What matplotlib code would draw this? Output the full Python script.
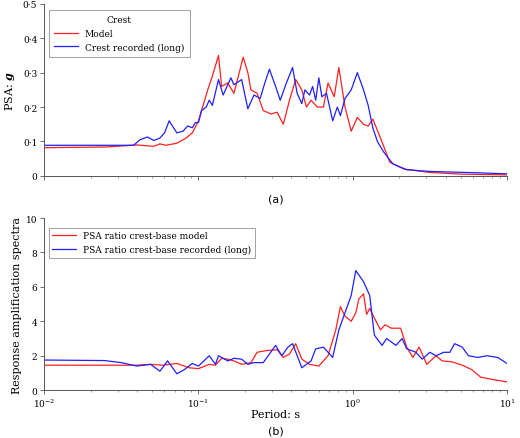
import numpy as np
import matplotlib
matplotlib.use("Agg")
import matplotlib.pyplot as plt
from matplotlib.ticker import FixedLocator, FixedFormatter

# log10(period) and value pairs
top_model_logT = [-2.0, -1.6, -1.40, -1.29, -1.25, -1.21, -1.14, -1.08, -1.04, -1.00, -0.98, -0.94, -0.91, -0.87,
                  -0.85, -0.81, -0.77, -0.73, -0.71, -0.68, -0.66, -0.62, -0.58, -0.53, -0.49, -0.45, -0.41, -0.37,
                  -0.33, -0.30, -0.27, -0.23, -0.19, -0.16, -0.12, -0.09, -0.05, -0.01, 0.03, 0.07, 0.10, 0.13,
                  0.18, 0.24, 0.33, 0.50, 0.71, 1.0]
top_model_psa = [0.082, 0.084, 0.09, 0.086, 0.093, 0.089, 0.095, 0.11, 0.125, 0.16, 0.19, 0.25, 0.29, 0.35,
                 0.26, 0.27, 0.24, 0.31, 0.345, 0.3, 0.25, 0.24, 0.19, 0.18, 0.185, 0.15, 0.22, 0.28,
                 0.25, 0.2, 0.22, 0.2, 0.2, 0.27, 0.23, 0.315, 0.2, 0.13, 0.17, 0.15, 0.145, 0.165,
                 0.11, 0.04, 0.02, 0.01, 0.005, 0.003]

top_rec_logT = [-2.0, -1.42, -1.38, -1.33, -1.29, -1.25, -1.22, -1.19, -1.14, -1.10, -1.07, -1.04, -1.02, -1.00,
                -0.98, -0.95, -0.93, -0.91, -0.87, -0.84, -0.79, -0.77, -0.72, -0.68, -0.64, -0.60, -0.57, -0.54,
                -0.50, -0.47, -0.43, -0.39, -0.36, -0.33, -0.31, -0.28, -0.26, -0.24, -0.22, -0.20, -0.17, -0.13,
                -0.10, -0.08, -0.05, -0.01, 0.03, 0.07, 0.10, 0.13, 0.16, 0.20, 0.26, 0.35, 0.50, 0.81, 1.0]
top_rec_psa = [0.089, 0.089, 0.105, 0.113, 0.103, 0.11, 0.125, 0.16, 0.125, 0.13, 0.145, 0.14, 0.155, 0.155,
               0.19, 0.2, 0.22, 0.205, 0.28, 0.235, 0.285, 0.265, 0.28, 0.195, 0.235, 0.225, 0.27, 0.31,
               0.26, 0.22, 0.27, 0.315, 0.24, 0.21, 0.25, 0.235, 0.26, 0.22, 0.285, 0.23, 0.24, 0.16,
               0.2, 0.175, 0.225, 0.25, 0.3, 0.25, 0.205, 0.14, 0.1, 0.07, 0.035, 0.018, 0.013, 0.009, 0.006]

bot_model_logT = [-2.0, -1.40, -1.31, -1.23, -1.14, -1.06, -1.00, -0.93, -0.89, -0.85, -0.81, -0.77, -0.72, -0.66,
                  -0.62, -0.56, -0.49, -0.45, -0.41, -0.37, -0.33, -0.28, -0.22, -0.16, -0.11, -0.08, -0.05, -0.01,
                  0.02, 0.04, 0.07, 0.09, 0.11, 0.14, 0.18, 0.21, 0.25, 0.31, 0.35, 0.39, 0.43, 0.48, 0.54,
                  0.58, 0.64, 0.71, 0.77, 0.83, 0.92, 1.0]
bot_model_ratio = [1.45, 1.45, 1.5, 1.45, 1.55, 1.3, 1.25, 1.5, 1.45, 1.85, 1.8, 1.7, 1.5, 1.6,
                   2.2, 2.3, 2.35, 1.9, 2.1, 2.7, 1.8, 1.5, 1.4, 2.0, 3.5, 4.85, 4.3, 4.0,
                   4.5, 5.3, 5.6, 4.4, 4.75, 4.2, 3.5, 3.8, 3.6, 3.6, 2.5, 1.9, 2.5, 1.5, 2.0,
                   1.7, 1.65, 1.45, 1.2, 0.75, 0.6, 0.48]

bot_rec_logT = [-2.0, -1.61, -1.50, -1.40, -1.31, -1.25, -1.20, -1.14, -1.09, -1.04, -1.00, -0.93, -0.89, -0.87,
                -0.81, -0.77, -0.72, -0.68, -0.64, -0.58, -0.50, -0.46, -0.42, -0.39, -0.33, -0.27, -0.24, -0.19,
                -0.13, -0.09, -0.05, -0.01, 0.02, 0.07, 0.11, 0.14, 0.19, 0.22, 0.28, 0.32, 0.35, 0.41, 0.45,
                0.50, 0.54, 0.59, 0.63, 0.66, 0.71, 0.75, 0.81, 0.87, 0.94, 1.0]
bot_rec_ratio = [1.75, 1.72, 1.6, 1.4, 1.5, 1.1, 1.7, 0.95, 1.2, 1.55, 1.4, 2.0, 1.5, 2.0,
                 1.7, 1.85, 1.8, 1.5, 1.6, 1.6, 2.6, 2.0, 2.5, 2.7, 1.3, 1.7, 2.4, 2.5,
                 1.9, 3.5, 4.5, 5.5, 6.95, 6.3, 5.5, 3.2, 2.6, 3.0, 2.6, 3.0, 2.4, 2.2, 1.8,
                 2.2, 2.0, 2.2, 2.2, 2.7, 2.5, 2.0, 1.9, 2.0, 1.9, 1.55]

top_yticks = [0, 0.1, 0.2, 0.3, 0.4, 0.5]
top_ylabels = ["0", "0·1", "0·2", "0·3", "0·4", "0·5"]

plt.rcParams['font.family'] = 'DejaVu Serif'
plt.rcParams['mathtext.fontset'] = 'dejavuserif'
RED = '#ff2020'
BLUE = '#2020ff'

fig = plt.figure(figsize=(5.2, 4.39), dpi=100)
ax1 = fig.add_axes([0.085, 0.597, 0.89, 0.392])
ax2 = fig.add_axes([0.085, 0.109, 0.89, 0.392])

ax1.plot(10 ** np.array(top_model_logT), top_model_psa, color=RED, lw=0.9, label='Model')
ax1.plot(10 ** np.array(top_rec_logT), top_rec_psa, color=BLUE, lw=0.9, label='Crest recorded (long)')
ax2.plot(10 ** np.array(bot_model_logT), bot_model_ratio, color=RED, lw=0.9, label='PSA ratio crest-base model')
ax2.plot(10 ** np.array(bot_rec_logT), bot_rec_ratio, color=BLUE, lw=0.9, label='PSA ratio crest-base recorded (long)')

for ax in (ax1, ax2):
    ax.set_xscale('log')
    ax.set_xlim(1e-2, 1e1)
    ax.spines['top'].set_visible(False)
    ax.spines['right'].set_visible(False)
    for s in ('left', 'bottom'):
        ax.spines[s].set_color('#555555')
        ax.spines[s].set_linewidth(0.7)
    ax.tick_params(labelsize=6.5, color='#555555', width=0.6, length=3, pad=2)
    ax.tick_params(which='minor', color='#777777', width=0.5, length=1.5)

ax1.set_ylim(0, 0.5)
ax1.yaxis.set_major_locator(FixedLocator(top_yticks))
ax1.yaxis.set_major_formatter(FixedFormatter(top_ylabels))
ax1.tick_params(axis='x', labelbottom=False)
ax1.set_ylabel(r'PSA: $\boldsymbol{g}$', fontsize=8, labelpad=4)
leg1 = ax1.legend(loc='upper left', title='Crest', fontsize=6.5, title_fontsize=6.5, fancybox=False,
                  edgecolor='#777777', handlelength=2.6, borderpad=0.6, bbox_to_anchor=(0.0, 0.99))
leg1.get_frame().set_linewidth(0.6)
fig.text(0.53, 0.545, '(a)', ha='center', va='center', fontsize=8, family='DejaVu Sans')

ax2.set_ylim(0, 10)
ax2.set_yticks([0, 2, 4, 6, 8, 10])
ax2.set_ylabel('Response amplification spectra', fontsize=8, labelpad=3)
ax2.set_xlabel('Period: s', fontsize=8, labelpad=0)
leg2 = ax2.legend(loc='upper left', fontsize=6.5, fancybox=False, edgecolor='#777777',
                  handlelength=2.6, borderpad=0.4, bbox_to_anchor=(0.0, 0.97))
leg2.get_frame().set_linewidth(0.6)
fig.text(0.53, 0.018, '(b)', ha='center', va='center', fontsize=8, family='DejaVu Sans')

fig.savefig('out.png', dpi=100)
